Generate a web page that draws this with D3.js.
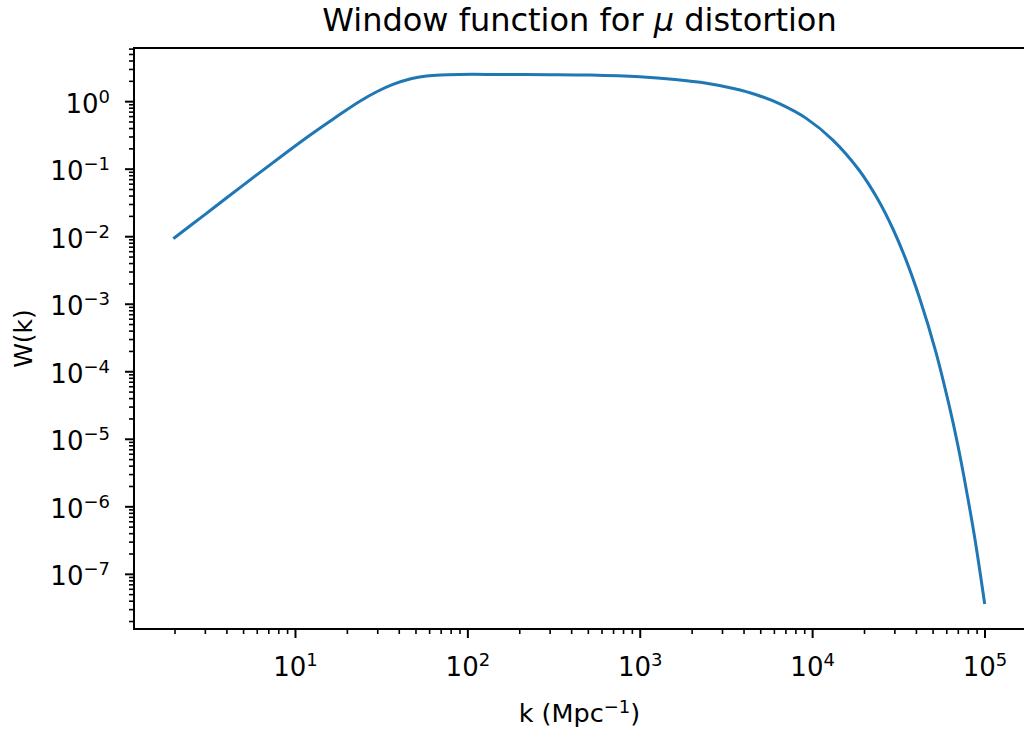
<!DOCTYPE html>
<html>
<head>
<meta charset="utf-8">
<script src="https://cdn.jsdelivr.net/npm/d3@7"></script>
<style>
  body { margin: 0; background: #fff; }
  text { font-family: "DejaVu Sans", sans-serif; fill: #000; }
</style>
</head>
<body>
<svg id="chart" width="1024" height="734"></svg>
<script>
// k in Mpc^-1
let kValues = [2, 3, 4, 6.3, 9, 12.2, 17, 23.8, 30, 37, 47, 58, 70, 90, 150, 300, 513, 1000,
    1600, 2440, 3500, 4750, 6500, 9250, 13200, 18800, 24000, 29400, 35000, 42000, 52000,
    62600, 70000, 78300, 88000, 100000];
// W(k)
let wValues = [0.0095, 0.0209, 0.0368, 0.0891, 0.177, 0.313, 0.565, 1.0, 1.39, 1.77, 2.15, 2.36, 2.45, 2.49,
    2.49, 2.47, 2.43, 2.29, 2.09, 1.84, 1.54, 1.246, 0.911, 0.556, 0.2655, 0.094, 0.0355, 0.0129,
    4.50e-3, 1.216e-3, 2.01e-4, 2.99e-5, 8.07e-6, 1.81e-6, 3.27e-7, 3.75e-8];

let xMajor = [1e1, 1e2, 1e3, 1e4, 1e5];
let xMajorExp = ["1", "2", "3", "4", "5"];
let yMajor = [1e-7, 1e-6, 1e-5, 1e-4, 1e-3, 1e-2, 1e-1, 1e0];
let yMajorExp = ["\u22127", "\u22126", "\u22125", "\u22124", "\u22123", "\u22122", "\u22121", "0"];

let titleText = "Window function for ";
let xLabel = "k (Mpc";
let yLabel = "W(k)";

// Layout
let svg = d3.select("#chart");
let plotLeft = 134, plotRight = 1025, plotTop = 48, plotBottom = 629;

// Scales with matplotlib-like 5% log margins
let kExt = d3.extent(kValues).map(Math.log10);
let wExt = d3.extent(wValues).map(Math.log10);
let kPad = (kExt[1] - kExt[0]) * 0.05;
let wPad = (wExt[1] - wExt[0]) * 0.05;
let x = d3.scaleLog().domain([10 ** (kExt[0] - kPad), 10 ** (kExt[1] + kPad)]).range([plotLeft, plotRight]);
let y = d3.scaleLog().domain([10 ** (wExt[0] - wPad), 10 ** (wExt[1] + wPad)]).range([plotBottom, plotTop]);

// Minor ticks 2..9 per decade inside the domain
function minorTicks(scale) {
    let d = scale.domain();
    let out = [];
    for (let e = Math.floor(Math.log10(d[0])); e <= Math.ceil(Math.log10(d[1])); e++) {
        for (let m = 2; m <= 9; m++) {
            let v = m * 10 ** e;
            if (v >= d[0] && v <= d[1]) out.push(v);
        };
    };
    return out;
};

let plot = svg.append("g").attr("class", "plot");

// Curve
let line = d3.line()
    .x((d, i) => x(kValues[i]))
    .y(d => y(d))
    .curve(d3.curveCatmullRom.alpha(0.5));

plot.append("path")
    .datum(wValues)
    .attr("d", line)
    .attr("fill", "none")
    .attr("stroke", "#1f77b4")
    .attr("stroke-width", 3)
    .attr("stroke-linejoin", "round")
    .attr("stroke-linecap", "square");

// Minor ticks
svg.append("g")
    .attr("transform", `translate(0,${plotBottom})`)
    .call(d3.axisBottom(x).tickValues(minorTicks(x)).tickSize(5).tickFormat(() => ""))
    .call(g => g.select(".domain").remove())
    .call(g => g.selectAll("line").attr("stroke", "#000").attr("stroke-width", 1.6));

svg.append("g")
    .attr("transform", `translate(${plotLeft},0)`)
    .call(d3.axisLeft(y).tickValues(minorTicks(y)).tickSize(5).tickFormat(() => ""))
    .call(g => g.select(".domain").remove())
    .call(g => g.selectAll("line").attr("stroke", "#000").attr("stroke-width", 1.6));

// Major ticks with 10^n labels
let xAxis = svg.append("g")
    .attr("transform", `translate(0,${plotBottom})`)
    .call(d3.axisBottom(x).tickValues(xMajor).tickSize(9).tickFormat(() => ""))
    .call(g => g.select(".domain").remove())
    .call(g => g.selectAll("line").attr("stroke", "#000").attr("stroke-width", 2));

xAxis.selectAll(".tick text").each(function (d, i) {
    let t = d3.select(this)
        .attr("y", 47).attr("dy", null)
        .attr("font-size", 26).attr("font-family", "DejaVu Sans").attr("fill", "#000")
        .attr("text-anchor", "middle");
    t.append("tspan").text("10");
    t.append("tspan").attr("dy", -10).attr("font-size", 18).text(xMajorExp[i]);
});

let yAxis = svg.append("g")
    .attr("transform", `translate(${plotLeft},0)`)
    .call(d3.axisLeft(y).tickValues(yMajor).tickSize(9).tickFormat(() => ""))
    .call(g => g.select(".domain").remove())
    .call(g => g.selectAll("line").attr("stroke", "#000").attr("stroke-width", 2));

yAxis.selectAll(".tick text").each(function (d, i) {
    let t = d3.select(this)
        .attr("x", -24).attr("y", 11).attr("dy", null)
        .attr("font-size", 26).attr("font-family", "DejaVu Sans").attr("fill", "#000")
        .attr("text-anchor", "end");
    t.append("tspan").text("10");
    t.append("tspan").attr("dy", -10).attr("font-size", 18).text(yMajorExp[i]);
});

// Spines (right one falls off the canvas like the reference)
svg.append("rect")
    .attr("x", plotLeft).attr("y", plotTop)
    .attr("width", plotRight - plotLeft).attr("height", plotBottom - plotTop)
    .attr("stroke", "#000").attr("stroke-width", 2).attr("fill", "none");

// Title
let title = svg.append("text")
    .attr("x", (plotLeft + plotRight) / 2)
    .attr("y", 31)
    .attr("text-anchor", "middle")
    .attr("font-size", 32);
title.append("tspan").text(titleText);
title.append("tspan").attr("font-style", "italic").text("\u03bc");
title.append("tspan").text(" distortion");

// Axis labels
let xl = svg.append("text")
    .attr("x", (plotLeft + plotRight) / 2)
    .attr("y", 722)
    .attr("text-anchor", "middle")
    .attr("font-size", 25.5);
xl.append("tspan").text(xLabel);
xl.append("tspan").attr("dy", -9).attr("font-size", 18).text("\u22121");
xl.append("tspan").attr("dy", 9).text(")");

svg.append("text")
    .attr("transform", `translate(32,${(plotTop + plotBottom) / 2}) rotate(-90)`)
    .attr("text-anchor", "middle")
    .attr("font-size", 25)
    .text(yLabel);
</script>
</body>
</html>
